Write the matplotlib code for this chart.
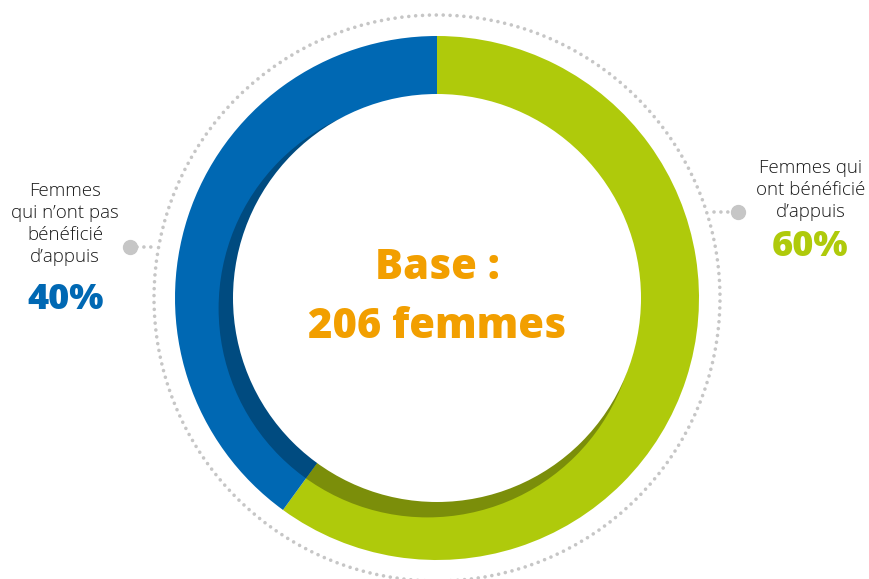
import matplotlib
matplotlib.use('Agg')
import matplotlib.pyplot as plt
from matplotlib.patches import Circle

# ─── DATA ───────────────────────────────────────────────────────────────────────
labels = ["Femmes qui\nont bénéficié\nd’appuis", "Femmes\nqui n’ont pas\nbénéficié\nd’appuis"]
shares = [60, 40]
pct_text = ["60%", "40%"]
center_text = ["Base :", "206 femmes"]

GREEN = '#AFCA0B'; BLUE = '#0068B3'
DGREEN = '#7B8E0A'; DBLUE = '#004B80'
ORANGE = '#F29F00'; GREY = '#C6C6C6'; TXT = '#1A1A1A'

W, H = 870, 579
CX, CY = 437, H - 298
R_OUT, R_IN = 262, 204

fig = plt.figure(figsize=(W / 100, H / 100), dpi=100)
ax = fig.add_axes([0, 0, 1, 1])
plt.rcParams['font.family'] = ['Open Sans', 'DejaVu Sans']

wedges, _ = ax.pie(shares, colors=[GREEN, BLUE], startangle=90, counterclock=False,
                   radius=R_OUT, center=(CX, CY), wedgeprops=dict(linewidth=0))

# ombre interieure (decalee vers le bas-gauche, un peu plus grande)
for w, c in zip(wedges, [DGREEN, DBLUE]):
    sh = Circle((CX - 9.4, CY - 10.4), R_IN + 5, color=c, lw=0, zorder=2)
    ax.add_patch(sh)
    sh.set_clip_path(w)
ax.add_patch(Circle((CX, CY), R_IN, color='white', lw=0, zorder=3))

# cercle pointille
ax.add_patch(Circle((CX, CY), 283, fill=False, ec=GREY, lw=2.6,
                    ls=(0, (0.01, 1.9)), capstyle='round', zorder=1))

# connecteurs
ax.plot([137, 156], [H - 247, H - 247], color=GREY, lw=2.6, ls=(0, (0.01, 1.9)),
        dash_capstyle='round', zorder=1)
ax.plot([130], [H - 247], 'o', color=GREY, ms=10, zorder=1)
ax.plot([714, 732], [H - 212, H - 212], color=GREY, lw=2.6, ls=(0, (0.01, 1.9)),
        dash_capstyle='round', zorder=1)
ax.plot([738], [H - 212], 'o', color=GREY, ms=10, zorder=1)

# textes
ax.text(65, H - 224, labels[1], ha='center', va='center', fontsize=13.5,
        color=TXT, linespacing=1.3, fontweight='light')
ax.text(66, H - 300, pct_text[1], ha='center', va='center', fontsize=26,
        color=BLUE, fontweight='heavy')
ax.text(811, H - 190, labels[0], ha='center', va='center', fontsize=13.5,
        color=TXT, linespacing=1.3, fontweight='light')
ax.text(810, H - 247, pct_text[0], ha='center', va='center', fontsize=26,
        color=GREEN, fontweight='heavy')

ax.text(CX, H - 268, center_text[0], ha='center', va='center', fontsize=30,
        color=ORANGE, fontweight='heavy', zorder=4)
ax.text(CX, H - 327, center_text[1], ha='center', va='center', fontsize=30,
        color=ORANGE, fontweight='heavy', zorder=4)

ax.set_xlim(0, W); ax.set_ylim(0, H)
ax.set_aspect('equal')
ax.axis('off')

plt.savefig('out.png', dpi=100)
